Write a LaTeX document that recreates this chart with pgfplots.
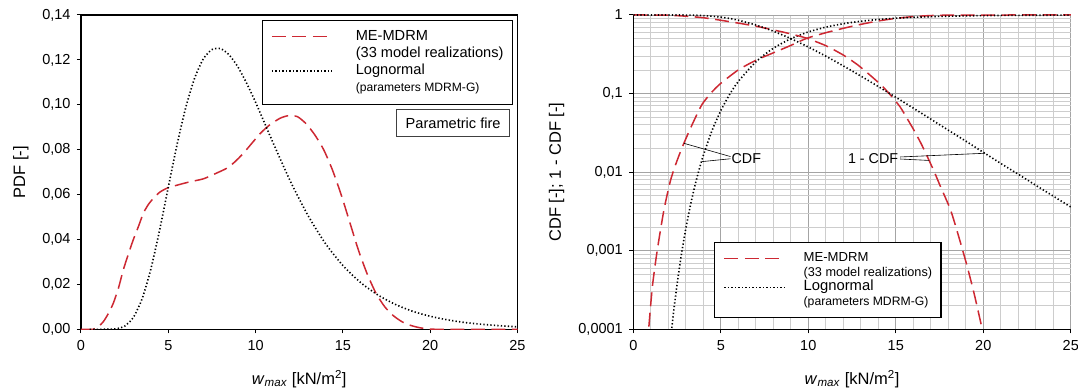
\documentclass[border=0pt]{standalone}
\usepackage{pgfplots}
\pgfplotsset{compat=1.18}
\usepackage{fontspec}
\setmainfont{Liberation Sans}
\definecolor{mered}{RGB}{205,40,50}
\definecolor{gridc}{RGB}{205,205,205}
\tikzset{
  medash/.style={mered, line width=1.5bp, dash pattern=on 14bp off 6.5bp},
  lndot/.style={black, line width=1.6bp, dash pattern=on 1.3bp off 2.2bp},
}
\newcommand\fs[1]{\fontsize{#1bp}{#1bp}\selectfont}

% ---- left: PDF ----
\pgfplotstableread{
x y
0 0
0.7 0
1.0 0.0012
1.28 0.0034
1.55 0.0068
1.85 0.0116
2.15 0.0185
2.42 0.0264
2.7 0.0332
2.99 0.0398
3.3 0.0460
3.57 0.0517
3.85 0.0555
4.14 0.0583
4.5 0.0610
4.91 0.0628
5.5 0.0642
6.24 0.0657
7.0 0.0670
7.6 0.0690
8.34 0.0717
8.8 0.0745
9.3 0.0784
9.8 0.0830
10.3 0.0875
10.8 0.0910
11.4 0.0940
11.9 0.0952
12.4 0.0947
12.9 0.0915
13.4 0.0865
13.9 0.0800
14.4 0.0710
14.9 0.0600
15.4 0.0475
15.9 0.0350
16.4 0.0245
16.9 0.0160
17.4 0.0100
17.9 0.0060
18.4 0.0033
18.9 0.0017
19.4 0.0007
19.9 0.0002
20.5 0
25 0
}\mepdf
\pgfplotstableread{
x y
0.5 0
1.5 0.00001
2 0.0002
2.5 0.0014
3 0.0053
3.5 0.0136
4 0.0268
4.5 0.0441
5 0.0633
5.5 0.0822
6 0.0988
6.5 0.1117
7 0.1204
7.5 0.1246
8 0.1250
8.5 0.1221
9 0.1167
9.5 0.1094
10 0.1011
11 0.0831
12 0.0658
13 0.0507
14 0.0382
15 0.0284
16 0.0209
17 0.0153
18 0.0111
19 0.0080
20 0.0058
21 0.0042
22 0.0030
23 0.0022
24 0.0016
25 0.0011
}\lnpdf

% ---- right: CDF and 1-CDF ----
\pgfplotstableread{
x y
0.89 0.000108
1.09 0.00035
1.37 0.00102
1.75 0.0033
2.13 0.0079
2.5 0.0140
2.89 0.0233
3.4 0.042
3.93 0.073
4.5 0.105
5.0 0.135
6.0 0.20
7.0 0.265
8.0 0.33
9.0 0.41
9.91 0.505
11.0 0.595
12.0 0.677
13.0 0.76
14.0 0.84
15.05 0.908
16.0 0.955
17.0 0.984
18.0 0.996
19.0 0.9993
20.0 0.9999
25.0 1.0
}\mecdf
\pgfplotstableread{
x y
0 0.99995
1 0.9995
2 0.993
3 0.966
4 0.923
5 0.857
6 0.789
7 0.721
8 0.646
9 0.575
9.91 0.506
11 0.407
12 0.309
12.8 0.234
13.55 0.170
14.2 0.126
14.7 0.0955
15.24 0.068
15.65 0.048
16.03 0.0344
16.45 0.023
16.89 0.0143
17.25 0.0095
17.56 0.0065
18.13 0.0033
18.6 0.0015
19.08 0.00063
19.5 0.00027
19.94 0.0001
}\mesurv
\pgfplotstableread{
x y
2.2 0.000104
2.3 0.000164
2.4 0.00025
2.5 0.000372
2.75 0.00090
3 0.00191
3.25 0.00365
3.5 0.00644
3.75 0.01056
4 0.01634
4.5 0.0339
5 0.0607
5.5 0.0971
6 0.1425
7 0.2535
8 0.3775
9 0.4992
10 0.6085
11 0.7006
12 0.7749
13 0.8329
14 0.8772
15 0.9102
16 0.9347
17 0.9527
18 0.9658
19 0.9752
20 0.9821
22 0.9906
25 0.9964
}\lncdf
\pgfplotstableread{
x y
0 0.99999
2 0.99996
2.5 0.99963
3 0.99809
3.5 0.99356
4 0.98366
4.5 0.9661
5 0.9393
5.5 0.9029
6 0.8575
7 0.7465
8 0.6225
9 0.5008
10 0.3915
11 0.2994
12 0.2251
13 0.1671
14 0.1228
15 0.0898
16 0.0653
17 0.0473
18 0.0342
19 0.0248
20 0.0179
21 0.0129
22 0.0094
23 0.0068
24 0.00495
25 0.0036
}\lnsurv

\begin{document}
\begin{tikzpicture}
\path[use as bounding box] (-81bp,-62.7bp) rectangle (997bp,329.3bp);
\pgfplotsset{
  common/.style={
    scale only axis, height=314.3bp,
    xmin=0, xmax=25, xtick={0,5,10,15,20,25},
    tick align=outside, major tick length=4bp, minor tick length=0bp,
    tick style={black, line width=1bp},
    axis line style={line width=1.2bp, black},
    tick label style={font=\fs{14.5}},
    xticklabel style={yshift=-4bp},
    yticklabel style={xshift=-3bp},
    /pgf/number format/assume math mode=true,
    label style={font=\fs{16.5}},
    xlabel={\textit{w}\textsubscript{\textit{max}} [kN/m\textsuperscript{2}]},
    xlabel style={at={(axis description cs:0.5,-0.158)}, anchor=center},
    legend image code/.code={\draw[##1] (0bp,0bp) -- (60bp,0bp);},
    legend cell align=left,
  },
}
% ================= left =================
\begin{axis}[common,
  at={(0,0)}, anchor=south west,
  width=436.5bp,
  ymin=0, ymax=0.14,
  ytick={0,0.02,0.04,0.06,0.08,0.1,0.12,0.14},
  yticklabel style={/pgf/number format/.cd, fixed, fixed zerofill, precision=2, use comma},
  xtick pos=bottom, ytick pos=left,
  ylabel={PDF [-]},
  ylabel style={at={(axis description cs:-0.138,0.5)}, anchor=center},
  legend style={at={(0.990,0.984)}, anchor=north east, draw=black, line width=1.3bp,
    inner xsep=9bp, inner ysep=9bp, row sep=3.2bp, font=\fs{14.6},
    nodes={inner sep=0pt, text height=10.5bp, text depth=3.5bp},
    /tikz/every odd column/.append style={column sep=23bp}},
]
\addplot[medash, smooth, tension=0.4] table {\mepdf};
\addlegendentry{ME-MDRM}
\addlegendimage{empty legend}
\addlegendentry{(33 model realizations)}
\addplot[lndot, smooth, tension=0.4] table {\lnpdf};
\addlegendentry{Lognormal}
\addlegendimage{empty legend}
\addlegendentry{\fs{12.1}(parameters MDRM-G)}
\node[draw=black!75, line width=0.9bp, minimum width=113bp, minimum height=27bp,
  anchor=north east, font=\fs{14.6}, inner sep=0pt] at (axis description cs:0.983,0.701) {Parametric fire};
\end{axis}
% ================= right =================
\begin{axis}[common,
  at={(552.3bp,0)}, anchor=south west,
  width=437.5bp,
  ymode=log, ymin=1e-4, ymax=1,
  ytick={1e-4,1e-3,1e-2,1e-1,1},
  yticklabels={{0,0001},{0,001},{0,01},{0,1},1},
  axis lines*=left,
  grid=both, minor x tick num=4,
  major grid style={gridc!80!black, line width=0.8bp},
  minor grid style={gridc, line width=0.7bp},
  ylabel={CDF [-]; 1 - CDF [-]},
  ylabel style={at={(axis description cs:-0.1755,0.5)}, anchor=center, rotate=0},
  legend style={at={(0.1845,0.036)}, anchor=south west, draw=black, line width=1.3bp,
    inner xsep=9bp, inner ysep=9bp, row sep=1.5bp, font=\fs{13},
    nodes={inner sep=0pt, text height=10bp, text depth=3bp},
    /tikz/every odd column/.append style={column sep=18.4bp}},
]
\addplot[medash, smooth, tension=0.4] table {\mecdf};
\addlegendentry{\fs{13.1}ME-MDRM}
\addlegendimage{empty legend}
\addlegendentry{\fs{12.7}(33 model realizations)}
\addplot[lndot, smooth, tension=0.4] table {\lncdf};
\addlegendentry{\fs{14.8}Lognormal}
\addlegendimage{empty legend}
\addlegendentry{\fs{12.2}(parameters MDRM-G)}
\addplot[medash, smooth, tension=0.4, forget plot] table {\mesurv};
\addplot[lndot, smooth, tension=0.4, forget plot] table {\lnsurv};
\draw[black, line width=0.6bp] (axis cs:5.55,0.0158) -- (axis cs:2.89,0.0233);
\draw[black, line width=0.6bp] (axis cs:5.55,0.0148) -- (axis cs:3.9,0.0136);
\node[anchor=west, font=\fs{14.3}, inner sep=1bp] at (axis cs:5.55,0.015) {CDF};
\draw[black, line width=0.6bp] (axis cs:15.25,0.0156) -- (axis cs:20.1,0.0174);
\draw[black, line width=0.6bp] (axis cs:15.25,0.0147) -- (axis cs:16.9,0.0141);
\node[anchor=east, font=\fs{14.3}, inner sep=1bp] at (axis cs:15.2,0.015) {1 - CDF};
\end{axis}
\end{tikzpicture}
\end{document}
